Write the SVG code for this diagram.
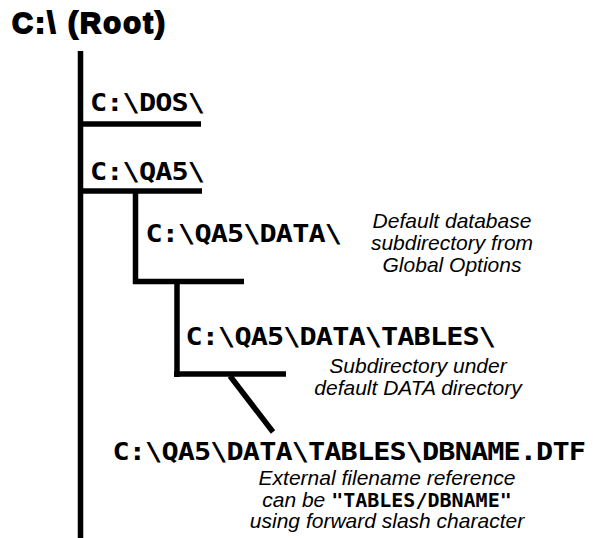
<svg xmlns="http://www.w3.org/2000/svg" width="599" height="538" viewBox="0 0 599 538">
<style>
.mono{font-family:"DejaVu Sans Mono","Liberation Mono",monospace;font-weight:bold;font-size:25.5px;letter-spacing:-0.8px;fill:#000}
.note{font-family:"Liberation Sans",Arial,sans-serif;font-style:italic;font-size:21px;fill:#000;text-anchor:middle}
.title{font-family:"Liberation Sans",Arial,sans-serif;font-weight:bold;font-size:29px;fill:#000;stroke:#000;stroke-width:1.8px}
.ln{stroke:#000;stroke-width:5.5;fill:none;stroke-linecap:butt}
.q{font-family:"DejaVu Sans Mono","Liberation Mono",monospace;font-style:normal;font-weight:bold;font-size:20px}
</style>
<rect width="599" height="538" fill="#fff"/>
<g id="connectors">
<line class="ln" x1="80.5" y1="51" x2="80.5" y2="538"/>
<line class="ln" x1="78" y1="124" x2="201" y2="124"/>
<line class="ln" x1="78" y1="191" x2="202" y2="191"/>
<line class="ln" x1="135.5" y1="191" x2="135.5" y2="284"/>
<line class="ln" x1="133" y1="281.5" x2="244" y2="281.5"/>
<line class="ln" x1="177" y1="281" x2="177" y2="377"/>
<line class="ln" x1="174" y1="374" x2="286" y2="374"/>
<line class="ln" x1="230" y1="376" x2="273" y2="432"/>
</g>
<g id="root"><text class="title" x="12" y="33" textLength="153" lengthAdjust="spacing">C:\ (Root)</text></g>
<g id="dos"><text class="mono" transform="translate(90,111) scale(1.12,1)">C:\DOS\</text></g>
<g id="qa5"><text class="mono" transform="translate(90,180) scale(1.12,1)">C:\QA5\</text></g>
<g id="data"><text class="mono" transform="translate(145.5,242) scale(1.12,1)">C:\QA5\DATA\</text>
<text class="note" x="452" y="228">Default database</text>
<text class="note" x="452" y="250">subdirectory from</text>
<text class="note" x="452" y="272">Global Options</text></g>
<g id="tables"><text class="mono" transform="translate(185.5,345) scale(1.12,1)">C:\QA5\DATA\TABLES\</text>
<text class="note" x="418" y="373">Subdirectory under</text>
<text class="note" x="418" y="395">default DATA directory</text></g>
<g id="dtf"><text class="mono" transform="translate(112.5,460) scale(1.12,1)">C:\QA5\DATA\TABLES\DBNAME.DTF</text>
<text class="note" x="387" y="485">External filename reference</text>
<text class="note" x="387" y="507">can be <tspan class="q">"TABLES/DBNAME"</tspan></text>
<text class="note" x="387" y="528">using forward slash character</text></g>
</svg>
